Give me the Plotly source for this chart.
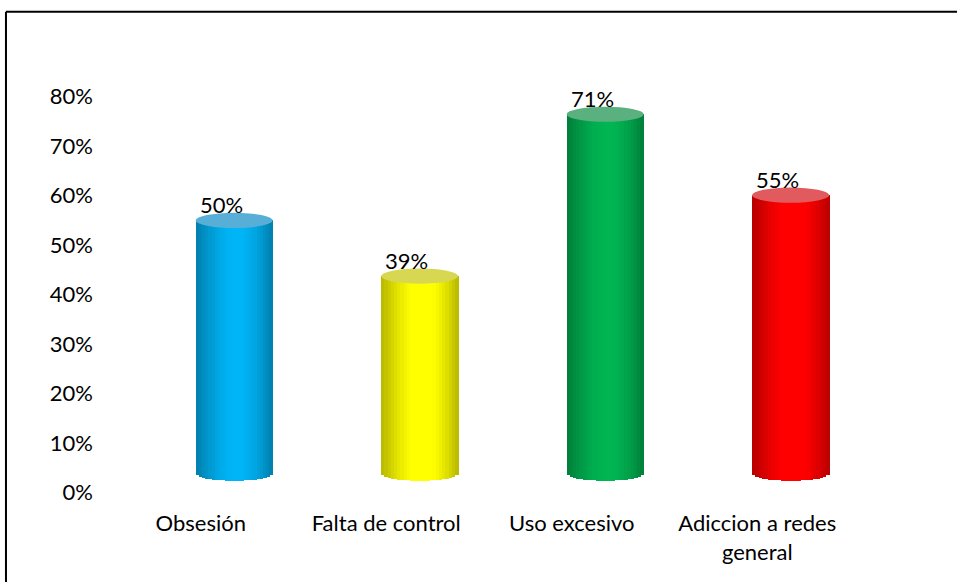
import plotly.graph_objects as go
import numpy as np

categories = ["Obsesión", "Falta de control", "Uso excesivo", "Adiccion a redes<br>general"]
values = [0.50, 0.39, 0.71, 0.55]
labels = ["50%", "39%", "71%", "55%"]
body_colors = [(0, 176, 240), (255, 255, 0), (0, 176, 80), (255, 0, 0)]
top_colors = ["#57AED6", "#D7D752", "#5BB07F", "#E05A5E"]
y_ticks = [0, 0.1, 0.2, 0.3, 0.4, 0.5, 0.6, 0.7, 0.8]

FONT = "Lato"
FS = 22
N = 24          # shading strips per cylinder
W = 0.415       # cylinder width (category units)
DX = 0.18       # perspective shift of cylinders
RY = 0.0150     # ellipse half height (bar-axis units)

def shade(rgb, f):
    return "rgb(%d,%d,%d)" % tuple(int(round(min(255, c * f))) for c in rgb)

fig = go.Figure()
for j in range(N):
    t = (j + 0.5) / N
    f = 0.72 + 0.31 * np.sin(np.pi * t ** 1.1)
    dip = RY * np.sqrt(max(0.0, 1 - (2 * t - 1) ** 2))
    fig.add_trace(go.Bar(
        x=categories, y=[v + dip for v in values], base=[-dip] * len(values),
        width=W / N + 0.002, offset=DX - W / 2 + j * W / N,
        marker=dict(color=[shade(c, f) for c in body_colors], line=dict(width=0)),
        yaxis="y2", showlegend=False, hoverinfo="skip"))

# invisible trace to anchor visible y-axis
fig.add_trace(go.Scatter(x=categories, y=values, mode="markers",
                         marker=dict(opacity=0), showlegend=False, hoverinfo="skip"))

shapes = []
for i, v in enumerate(values):
    shapes.append(dict(type="circle", xref="x", yref="y2",
                       x0=i + DX - W / 2, x1=i + DX + W / 2,
                       y0=v - RY, y1=v + RY,
                       fillcolor=top_colors[i], line=dict(width=0), layer="above"))
# outer frame (top & left edges visible)
shapes.append(dict(type="line", xref="paper", yref="paper", x0=-0.1375, x1=1.3,
                   y0=1.150, y1=1.150, line=dict(color="black", width=2)))
shapes.append(dict(type="line", xref="paper", yref="paper", x0=-0.1375, x1=-0.1375,
                   y0=-0.4, y1=1.150, line=dict(color="black", width=2)))

annotations = []
for i, (v, lab) in enumerate(zip(values, labels)):
    annotations.append(dict(x=i + DX - 0.07, y=v, xref="x", yref="y2", text=lab,
                            showarrow=False, yshift=16,
                            font=dict(family=FONT, size=FS, color="black")))

fig.update_layout(
    width=957, height=582,
    margin=dict(l=108, r=107, t=77, b=70),
    paper_bgcolor="white", plot_bgcolor="white",
    barmode="overlay", bargap=0,
    font=dict(family=FONT, size=FS, color="black"),
    xaxis=dict(type="category", range=[-0.5, 3.5], showgrid=False, showline=False,
               zeroline=False, ticks="", tickfont=dict(size=FS), ticklabelstandoff=-4),
    yaxis=dict(range=[-0.04, 0.84], tickvals=y_ticks, tickformat=".0%",
               showgrid=False, showline=False, zeroline=False, ticks="",
               ticklabelstandoff=14, tickfont=dict(size=FS)),
    yaxis2=dict(range=[-0.0767, 0.7837], overlaying="y", visible=False),
    shapes=shapes, annotations=annotations,
)
fig.write_html("out.html", config={"displayModeBar": False},
               post_script="document.body.style.margin='0px';")
